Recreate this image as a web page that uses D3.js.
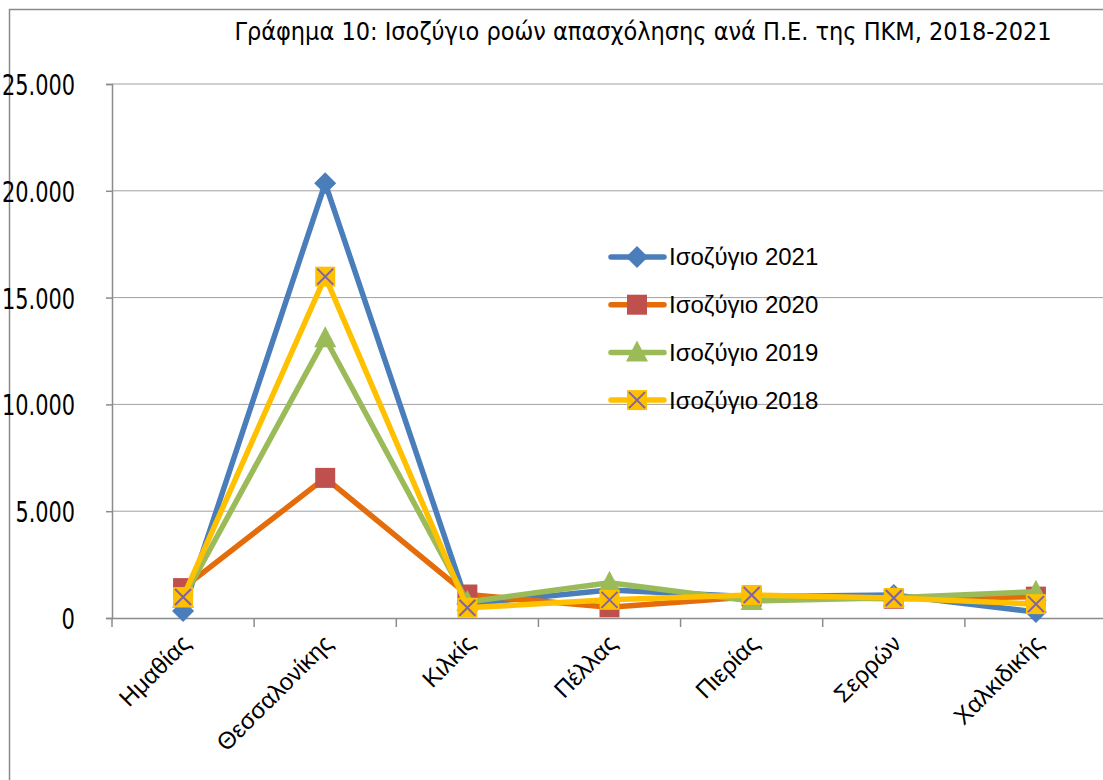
<!DOCTYPE html>
<html lang="el">
<head>
  <meta charset="UTF-8" />
  <title>Ισοζύγιο ροών απασχόλησης</title>
  <script src="https://d3js.org/d3.v7.min.js"></script>
  <style>
    body { margin:0; padding:0; background:#fff; }
    svg { display:block; }
    .narrow { font-family:"Liberation Sans Narrow","DejaVu Sans Condensed","Liberation Sans",sans-serif; font-stretch:condensed; }
    .lbl { font-family:"Liberation Sans",sans-serif; }
  </style>
</head>
<body>
  <svg width="1103" height="780"></svg>

  <script>
  // data
  const categories = ["Ημαθίας", "Θεσσαλονίκης", "Κιλκίς", "Πέλλας", "Πιερίας", "Σερρών", "Χαλκιδικής"];
  const seriesNames = ["Ισοζύγιο 2021", "Ισοζύγιο 2020", "Ισοζύγιο 2019", "Ισοζύγιο 2018"];
  const v2021 = [330, 20350, 650, 1310, 1000, 1080, 280];
  const v2020 = [1400, 6560, 1100, 500, 1000, 900, 1000];
  const v2019 = [900, 13100, 750, 1650, 800, 950, 1230];
  const v2018 = [980, 15980, 480, 850, 1080, 940, 650];
  const yTicks = [0, 5000, 10000, 15000, 20000, 25000];
  const title = "Γράφημα 10: Ισοζύγιο ροών απασχόλησης ανά Π.Ε. της ΠΚΜ, 2018-2021";

  (function(){
    const svg = d3.select("svg");
    const L = 112, R = 1107, T = 84, B = 618;

    const series = [
      { name: seriesNames[0], values: v2021, line: "#4A7EBB", marker: "diamond", fill: "#4A7EBB" },
      { name: seriesNames[1], values: v2020, line: "#E46C0A", marker: "square",  fill: "#C0504D" },
      { name: seriesNames[2], values: v2019, line: "#9BBB59", marker: "triangle", fill: "#9BBB59" },
      { name: seriesNames[3], values: v2018, line: "#FFC000", marker: "x",       fill: "#FFC000" }
    ];

    const grLocale = d3.formatLocale({ decimal: ",", thousands: ".", grouping: [3], currency: ["", "€"] });
    const fmt = grLocale.format(",");

    const x = d3.scaleBand().domain(categories).range([L, R]).padding(0);
    const cx = c => x(c) + x.bandwidth() / 2;
    const y = d3.scaleLinear().domain([0, 25000]).range([B, T]);

    // outer frame
    svg.append("rect")
      .attr("x", 9.5).attr("y", 9.5).attr("width", 1200).attr("height", 1000)
      .attr("fill", "none").attr("stroke", "#8a8a8a").attr("stroke-width", 1.5);

    // title (shrink font until it fits the reference width)
    const titleEl = svg.append("text")
      .attr("class", "narrow")
      .attr("x", 643).attr("y", 40)
      .attr("text-anchor", "middle")
      .attr("font-size", 28)
      .attr("fill", "#000")
      .text(title);
    let fs = 28;
    while (titleEl.node().getComputedTextLength() > 830 && fs > 16) {
      fs -= 0.5;
      titleEl.attr("font-size", fs);
    }

    // gridlines
    svg.append("g").selectAll("line").data(yTicks.filter(d => d > 0)).enter().append("line")
      .attr("x1", L).attr("x2", R)
      .attr("y1", d => y(d)).attr("y2", d => y(d))
      .attr("stroke", "#a0a0a0").attr("stroke-width", 1);

    // y axis
    const yAxis = svg.append("g")
      .attr("transform", `translate(${L},0)`)
      .call(d3.axisLeft(y).tickValues(yTicks).tickFormat(fmt).tickSize(6).tickPadding(30));
    yAxis.select(".domain").attr("stroke", "#8c8c8c").attr("stroke-width", 1.5);
    yAxis.selectAll(".tick line").attr("stroke", "#8c8c8c").attr("stroke-width", 1.5);
    yAxis.selectAll(".tick text")
      .attr("class", "narrow")
      .attr("font-size", 29).attr("fill", "#000")
      .attr("x", -37).attr("dy", "0.36em")
      .each(function(d) {
        const s = fmt(d);
        const digits = s.replace(/\./g, "").length;
        const dots = s.length - digits;
        d3.select(this)
          .attr("textLength", digits * 13.4 + dots * 6)
          .attr("lengthAdjust", "spacingAndGlyphs");
      });

    // x axis
    const xAxis = svg.append("g")
      .attr("transform", `translate(0,${B})`)
      .call(d3.axisBottom(x).tickSize(0).tickFormat(""));
    xAxis.select(".domain").attr("stroke", "#8c8c8c").attr("stroke-width", 1.5);
    xAxis.selectAll(".tick").remove();
    // tick marks on category boundaries
    xAxis.selectAll(".bt").data(categories).enter().append("line")
      .attr("x1", d => x(d)).attr("x2", d => x(d))
      .attr("y1", 0).attr("y2", 9)
      .attr("stroke", "#8c8c8c").attr("stroke-width", 1.5);

    // x labels
    svg.append("g").selectAll("text").data(categories).enter().append("text")
      .attr("class", "lbl")
      .attr("transform", d => `translate(${cx(d) + 3},${B + 21}) rotate(-45)`)
      .attr("text-anchor", "end")
      .attr("dy", "0.35em")
      .attr("font-size", 24)
      .attr("fill", "#000")
      .text(d => d);

    // markers
    function drawMarker(g, s, px, py) {
      if (s.marker === "diamond") {
        g.append("path")
          .attr("d", `M${px},${py-11}L${px+11},${py}L${px},${py+11}L${px-11},${py}Z`)
          .attr("fill", s.fill);
      } else if (s.marker === "square") {
        g.append("rect")
          .attr("x", px-10).attr("y", py-10).attr("width", 20).attr("height", 20)
          .attr("fill", s.fill);
      } else if (s.marker === "triangle") {
        g.append("path")
          .attr("d", `M${px},${py-12}L${px+11},${py+9}L${px-11},${py+9}Z`)
          .attr("fill", s.fill);
      } else {
        g.append("rect")
          .attr("x", px-10).attr("y", py-10).attr("width", 20).attr("height", 20)
          .attr("fill", s.fill);
        g.append("path")
          .attr("d", `M${px-8},${py-8}L${px+8},${py+8}M${px+8},${py-8}L${px-8},${py+8}`)
          .attr("stroke", "#7E63A8").attr("stroke-width", 2).attr("fill", "none");
      }
    }

    const line = d3.line().x((d, i) => cx(categories[i])).y(d => y(d));

    const plot = svg.append("g");
    series.forEach(s => {
      const g = plot.append("g");
      g.append("path")
        .attr("d", line(s.values))
        .attr("fill", "none")
        .attr("stroke", s.line)
        .attr("stroke-width", 5.5)
        .attr("stroke-linejoin", "round")
        .attr("stroke-linecap", "round");
      s.values.forEach((v, i) => drawMarker(g, s, cx(categories[i]), y(v)));
    });

    // legend
    const leg = svg.append("g");
    series.forEach((s, i) => {
      const ly = 257 + i * 47.7;
      const g = leg.append("g");
      g.append("line")
        .attr("x1", 611).attr("x2", 664).attr("y1", ly).attr("y2", ly)
        .attr("stroke", s.line).attr("stroke-width", 5.5).attr("stroke-linecap", "round");
      drawMarker(g, s, 637, ly);
      g.append("text")
        .attr("class", "lbl")
        .attr("x", 669).attr("y", ly).attr("dy", "0.35em")
        .attr("font-size", 24).attr("fill", "#000")
        .text(s.name);
    });
  })();
  </script>
</body>
</html>
